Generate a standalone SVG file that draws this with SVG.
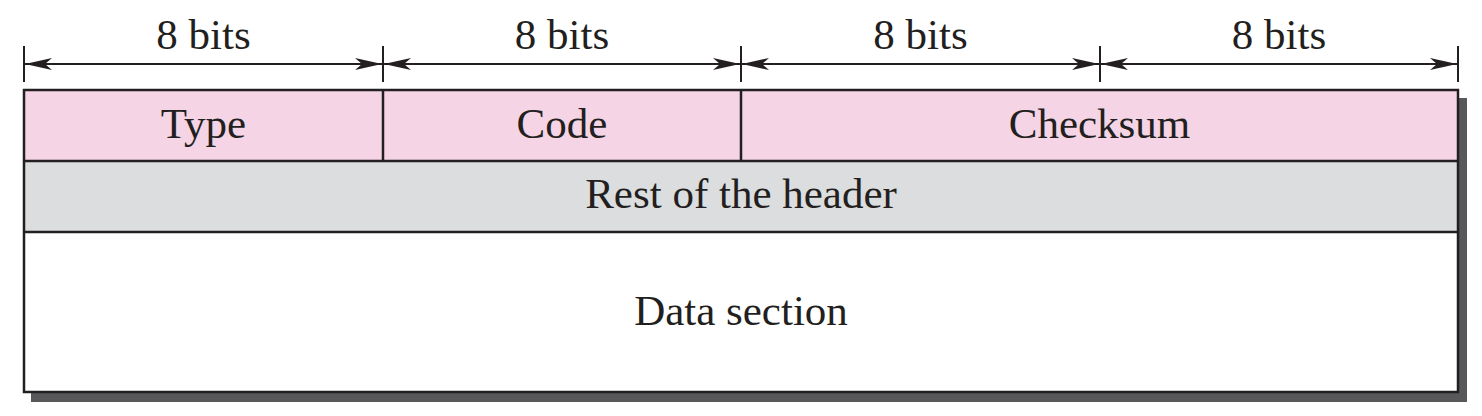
<svg xmlns="http://www.w3.org/2000/svg" width="1482" height="416" viewBox="0 0 1482 416">
<defs>
<style>
.t{font-family:"Liberation Serif","Times New Roman",serif;font-size:43px;fill:#231f20;text-anchor:middle}
.b{stroke:#231f20;stroke-width:2.5;fill:none}
.d{stroke:#231f20;stroke-width:2;fill:none}
</style>
<marker id="ah" viewBox="-28 -7 30 14" refX="0" refY="0" markerWidth="30" markerHeight="14" markerUnits="userSpaceOnUse" orient="auto-start-reverse">
<path d="M0,0 L-27,-6 L-20,0 L-27,6 Z" fill="#231f20"/>
</marker>
</defs>
<rect width="1482" height="416" fill="#ffffff"/>
<g id="shadow">
<rect x="31" y="98" width="1436" height="304" fill="#58585a"/>
</g>
<g id="row-rest">
<rect x="24" y="161" width="1434" height="71" fill="#dcdddf"/>
<text class="t" x="741" y="208">Rest of the header</text>
</g>
<g id="row-data">
<rect x="24" y="232" width="1434" height="160" fill="#ffffff"/>
<text class="t" x="741" y="325">Data section</text>
</g>
<g id="type">
<rect x="24" y="90" width="359" height="71" fill="#f5d5e5"/>
<text class="t" x="203.5" y="138">Type</text>
</g>
<g id="code">
<rect x="383" y="90" width="358" height="71" fill="#f5d5e5"/>
<text class="t" x="562" y="138">Code</text>
</g>
<g id="checksum">
<rect x="741" y="90" width="717" height="71" fill="#f5d5e5"/>
<text class="t" x="1099.5" y="138">Checksum</text>
</g>
<g id="borders">
<rect class="b" x="24" y="90" width="1434" height="302"/>
<line class="b" x1="24" y1="161" x2="1458" y2="161"/>
<line class="b" x1="24" y1="232" x2="1458" y2="232"/>
<line class="b" x1="383" y1="90" x2="383" y2="161"/>
<line class="b" x1="741" y1="90" x2="741" y2="161"/>
</g>
<g id="connectors">
<line class="d" x1="24" y1="46" x2="24" y2="82"/>
<line class="d" x1="383" y1="46" x2="383" y2="82"/>
<line class="d" x1="741" y1="46" x2="741" y2="82"/>
<line class="d" x1="1100" y1="46" x2="1100" y2="82"/>
<line class="d" x1="1458" y1="46" x2="1458" y2="82"/>
<line class="d" x1="25" y1="64" x2="382" y2="64" marker-start="url(#ah)" marker-end="url(#ah)"/>
<line class="d" x1="384" y1="64" x2="740" y2="64" marker-start="url(#ah)" marker-end="url(#ah)"/>
<line class="d" x1="742" y1="64" x2="1099" y2="64" marker-start="url(#ah)" marker-end="url(#ah)"/>
<line class="d" x1="1101" y1="64" x2="1457" y2="64" marker-start="url(#ah)" marker-end="url(#ah)"/>
</g>
<g id="labels">
<text class="t" x="203.5" y="49">8 bits</text>
<text class="t" x="562" y="49">8 bits</text>
<text class="t" x="920.5" y="49">8 bits</text>
<text class="t" x="1279" y="49">8 bits</text>
</g>
</svg>
